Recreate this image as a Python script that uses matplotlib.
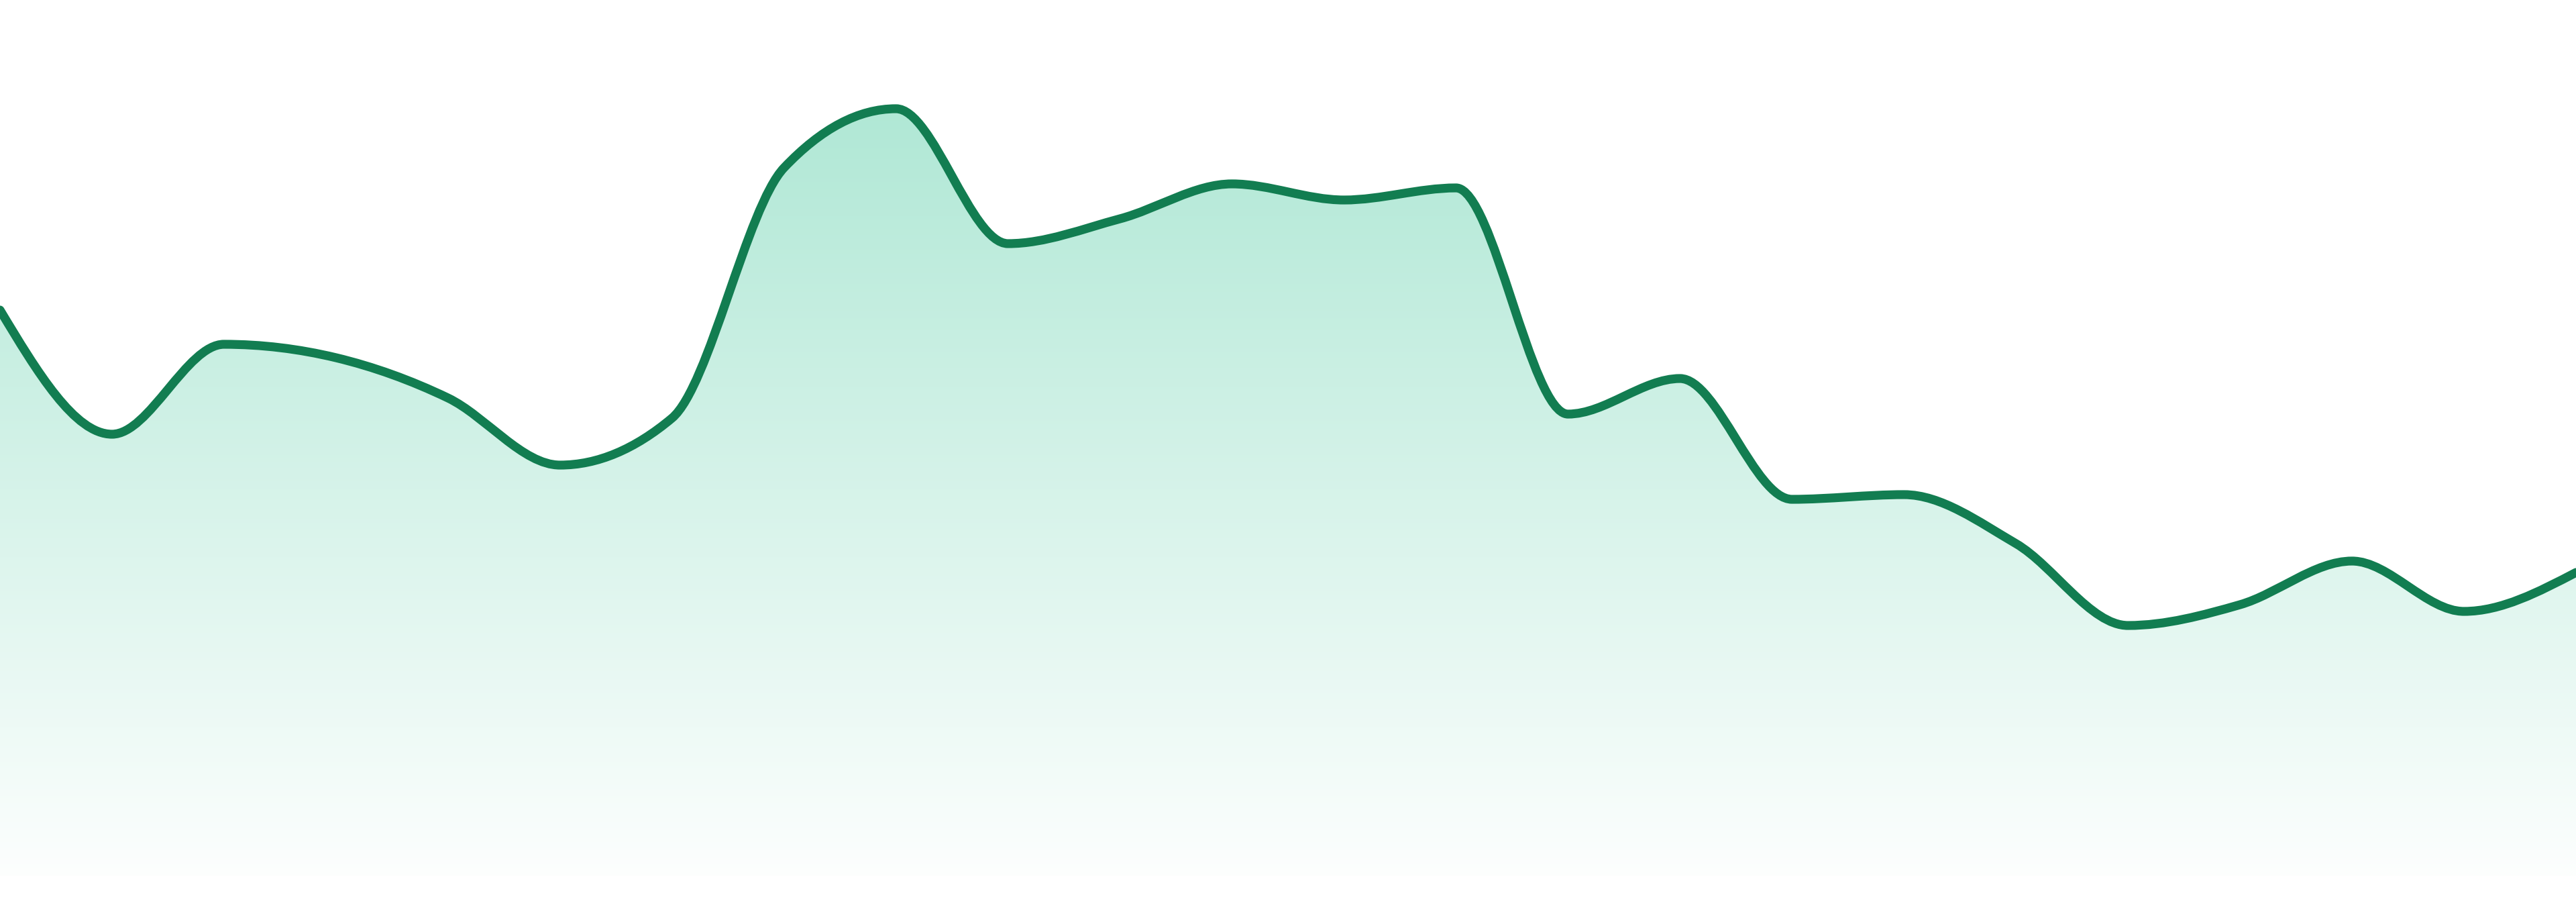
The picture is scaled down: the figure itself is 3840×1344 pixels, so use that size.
import numpy as np
from matplotlib import pyplot as plt
from matplotlib.path import Path
from matplotlib.patches import PathPatch


# values (one point per step)
idx = np.arange(24)
vals = [84.3, 65.8, 79.2, 77.2, 71.2, 61.2, 68.2, 105.5, 114.3, 94.2, 97.9, 103.1,
        100.7, 102.5, 68.8, 74.1, 56.1, 56.8, 49.5, 37.3, 40.4, 46.9, 39.4, 45.2]

line_col = '#127d51'
fill_col = np.array([16, 185, 129]) / 255.0  # emerald


def monotone_tangents(x, y):
	# same rule as d3 curveMonotoneX
	x = np.asarray(x, float); y = np.asarray(y, float)
	n = len(x)
	h = np.diff(x); s = np.diff(y) / h
	t = np.zeros(n)
	for i in range(1, n - 1):
		s0, s1 = s[i-1], s[i]
		p = (s0 * h[i] + s1 * h[i-1]) / (h[i-1] + h[i])
		t[i] = (np.sign(s0) + np.sign(s1)) * min(abs(s0), abs(s1), 0.5 * abs(p))
		if np.isnan(t[i]): t[i] = 0
	t[0] = (3 * s[0] - t[1]) / 2
	t[-1] = (3 * s[-1] - t[-2]) / 2
	return t


def curve_verts(x, y):
	t = monotone_tangents(x, y)
	verts = [(x[0], y[0])]
	codes = [Path.MOVETO]
	for i in range(len(x) - 1):
		dx = (x[i+1] - x[i]) / 3
		verts += [(x[i] + dx, y[i] + dx * t[i]),
		          (x[i+1] - dx, y[i+1] - dx * t[i+1]),
		          (x[i+1], y[i+1])]
		codes += [Path.CURVE4] * 3
	return verts, codes


fig = plt.figure(figsize=(38.4, 13.44), dpi=100)
ax = fig.add_axes([0, 0, 1, 1])
ax.set_xlim(0, 23)
ax.set_ylim(-3.9, 130.5)
ax.axis('off')

verts, codes = curve_verts(idx, vals)

# area under the curve with a vertical gradient
area_v = verts + [(idx[-1], 0), (idx[0], 0), (idx[0], vals[0])]
area_c = codes + [Path.LINETO, Path.LINETO, Path.CLOSEPOLY]
patch = PathPatch(Path(area_v, area_c), facecolor='none', edgecolor='none')
ax.add_patch(patch)

top, bot = max(vals), 0
alpha = np.linspace(0.01, 0.33, 256)[:, None]
grad = 1 - alpha[..., None] * (1 - fill_col)
grad = np.repeat(grad, 2, axis=1)
im = ax.imshow(grad, extent=[0, 23, bot, top], origin='lower', aspect='auto',
               interpolation='bilinear', zorder=1)
im.set_clip_path(patch)

line = PathPatch(Path(verts, codes), facecolor='none', edgecolor=line_col,
                 lw=9.5, capstyle='round', joinstyle='round', zorder=3)
ax.add_patch(line)

fig.savefig('out.png', dpi=100, facecolor='white')
